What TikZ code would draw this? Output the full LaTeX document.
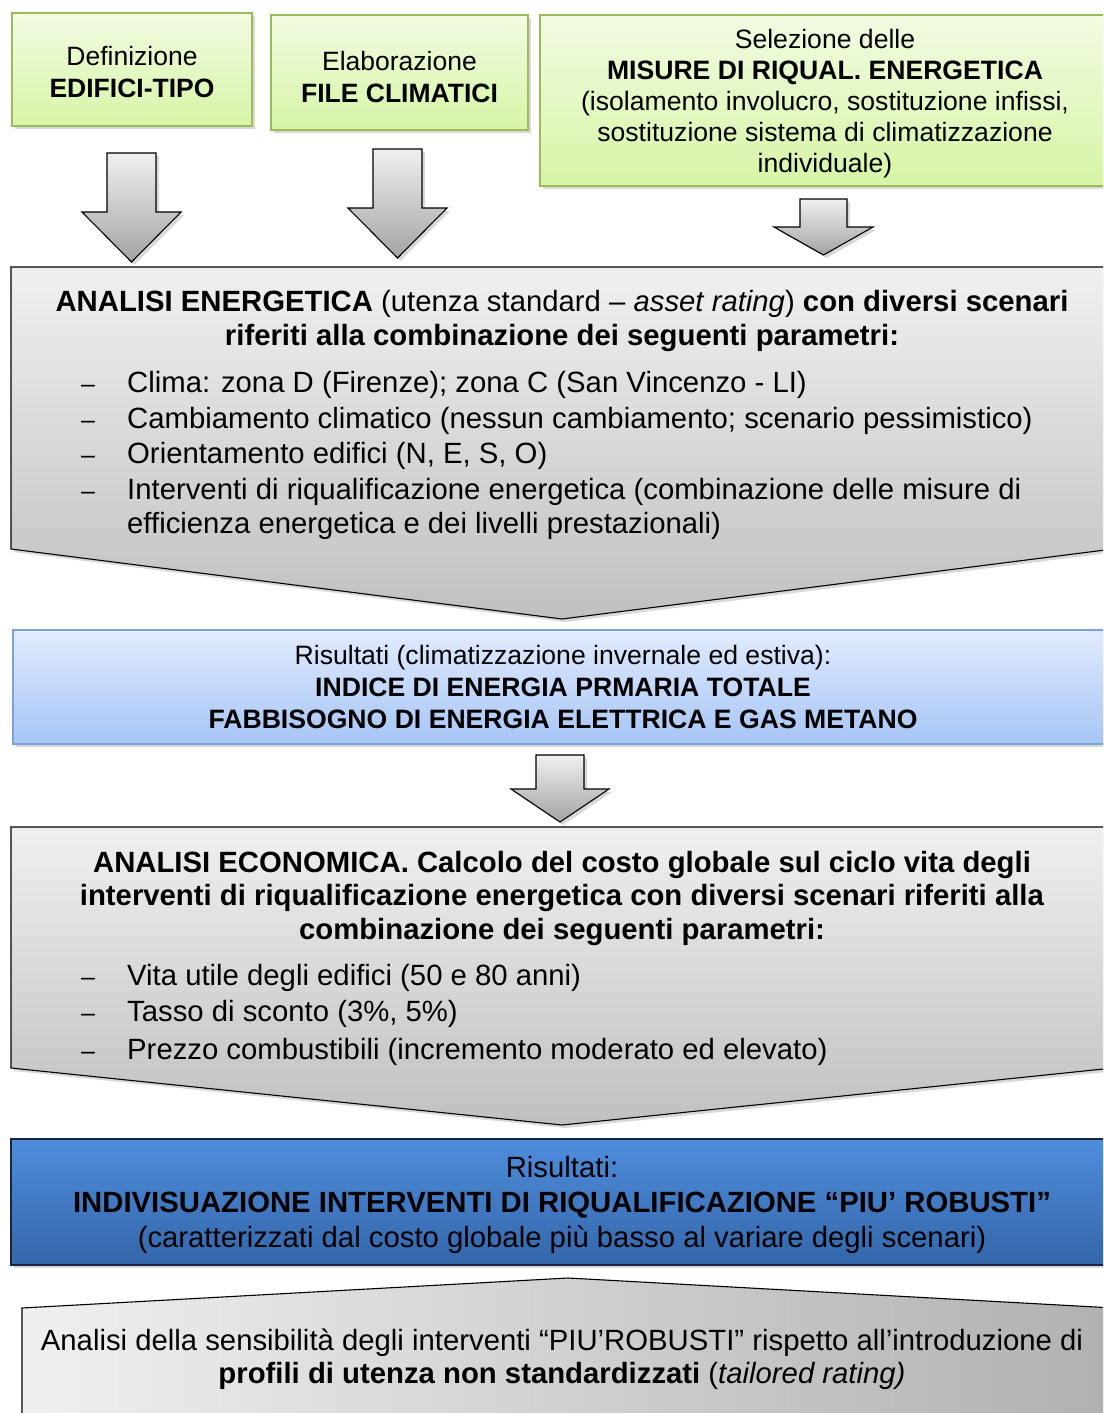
\documentclass[tikz,border=0pt]{standalone}
\usepackage{fontspec}
\setmainfont{Liberation Sans}
\usetikzlibrary{shadows}
\definecolor{grTop}{HTML}{F2FBE2}
\definecolor{grBot}{HTML}{D6F5A6}
\definecolor{grLine}{HTML}{9BBB59}
\definecolor{gyTop}{HTML}{F0F0F0}
\definecolor{gyBot}{HTML}{C0C0C0}
\definecolor{lbTop}{HTML}{E2EBFD}
\definecolor{lbBot}{HTML}{A6C5F6}
\definecolor{lbLine}{HTML}{7EA2D8}
\definecolor{dbTop}{HTML}{4F8DDC}
\definecolor{dbBot}{HTML}{3466AA}
\definecolor{dbLine}{HTML}{17263D}
\begin{document}
\begin{tikzpicture}[x=1pt,y=-1pt,
  shad/.style={drop shadow={opacity=0.3,shadow xshift=3pt,shadow yshift=-3pt}},
  greenbox/.style={shad,draw=grLine,line width=1.5pt,top color=grTop,bottom color=grBot,inner sep=0pt},
  greentxt/.style={inner sep=0pt,align=center,font=\fontsize{26.5}{32}\selectfont},
  blockarrow/.style={shad,draw=black,line width=1.1pt,top color=gyTop,bottom color=gyBot!85!black},
  bigbox/.style={shad,draw=black,line width=1.1pt,top color=gyTop,bottom color=gyBot},
  lightblue/.style={shad,draw=lbLine,line width=1.5pt,top color=lbTop,bottom color=lbBot,inner sep=0pt,align=center,font=\fontsize{26.6}{32}\selectfont},
  darkblue/.style={shad,draw=dbLine,line width=2pt,top color=dbTop,bottom color=dbBot,inner sep=0pt},
  bigtxt/.style={anchor=base,inner sep=0pt,font=\fontsize{29.3}{34}\selectfont},
  bultxt/.style={anchor=base west,inner sep=0pt,font=\fontsize{29.3}{34}\selectfont},
  dashmark/.style={anchor=base,inner sep=0pt,font=\fontsize{25}{34}\selectfont}
]
\useasboundingbox (0,0) rectangle (1103,1413);
\fill[white] (0,0) rectangle (1103,1413);
\clip (0,0) rectangle (1103,1413);

% top green boxes
\node[greenbox,minimum width=240pt,minimum height=113pt] (edifici) at (132,69.5) {};
\node[greentxt] (edificitxt) at (132,72) {Definizione\\\textbf{EDIFICI-TIPO}};
\node[greenbox,minimum width=257pt,minimum height=115pt] (climatici) at (399.5,72.5) {};
\node[greentxt] (climaticitxt) at (399.5,77) {Elaborazione\\\textbf{FILE CLIMATICI}};
\node[greenbox,minimum width=570pt,minimum height=171pt] (misure) at (825,100.5) {};
\node[inner sep=0pt,align=center,font=\fontsize{26.6}{31}\selectfont] (misuretxt) at (825,103.5)
  {Selezione delle\\\textbf{MISURE DI RIQUAL. ENERGETICA}\\(isolamento involucro, sostituzione infissi,\\sostituzione sistema di climatizzazione\\individuale)};

% block arrows below the green boxes
\draw[blockarrow] (107,153) -- (156,153) -- (156,212) -- (181,212) -- (131.5,262) -- (82,212) -- (107,212) -- cycle;
\draw[blockarrow] (373,149) -- (422,149) -- (422,208) -- (447,208) -- (397.5,258) -- (348,208) -- (373,208) -- cycle;
\draw[blockarrow] (800,199) -- (847,199) -- (847,227) -- (873,227) -- (823.5,255) -- (774,227) -- (800,227) -- cycle;

% ANALISI ENERGETICA
\draw[bigbox] (11,267) -- (1113,267) -- (1113,549) -- (562,619) -- (11,549) -- cycle;
\node[bigtxt] (ae1) at (562,311) {\textbf{ANALISI ENERGETICA} (utenza standard – \textit{asset rating}) \textbf{con diversi scenari}};
\node[bigtxt] (ae2) at (562,345) {\textbf{riferiti alla combinazione dei seguenti parametri:}};
\node[dashmark] (d1) at (88,392) {–};
\node[dashmark] (d2) at (88,428) {–};
\node[dashmark] (d3) at (88,463) {–};
\node[dashmark] (d4) at (88,499) {–};
\node[bultxt] (b1) at (127,392) {Clima: zona D (Firenze); zona C (San Vincenzo - LI)};
\node[bultxt] (b2) at (127,428) {Cambiamento climatico (nessun cambiamento; scenario pessimistico)};
\node[bultxt] (b3) at (127,463) {Orientamento edifici (N, E, S, O)};
\node[bultxt] (b4) at (127,499) {Interventi di riqualificazione energetica (combinazione delle misure di};
\node[bultxt] (b5) at (127,533) {efficienza energetica e dei livelli prestazionali)};

% Risultati 1
\node[lightblue,minimum width=1100pt,minimum height=114pt] (ris1) at (563,687)
  {Risultati (climatizzazione invernale ed estiva):\\\textbf{INDICE DI ENERGIA PRMARIA TOTALE}\\\textbf{FABBISOGNO DI ENERGIA ELETTRICA E GAS METANO}};

\draw[blockarrow] (536,755) -- (584,755) -- (584,789) -- (609,789) -- (560,822) -- (511,789) -- (536,789) -- cycle;

% ANALISI ECONOMICA
\draw[bigbox] (11,827) -- (1113,827) -- (1113,1068) -- (562,1125) -- (11,1068) -- cycle;
\node[bigtxt] (ec1) at (562,872) {\textbf{ANALISI ECONOMICA. Calcolo del costo globale sul ciclo vita degli}};
\node[bigtxt] (ec2) at (562,905) {\textbf{interventi di riqualificazione energetica con diversi scenari riferiti alla}};
\node[bigtxt] (ec3) at (562,939) {\textbf{combinazione dei seguenti parametri:}};
\node[dashmark] (e1) at (88,985) {–};
\node[dashmark] (e2) at (88,1021) {–};
\node[dashmark] (e3) at (88,1059) {–};
\node[bultxt] (c1) at (127,985) {Vita utile degli edifici (50 e 80 anni)};
\node[bultxt] (c2) at (127,1021) {Tasso di sconto (3\%, 5\%)};
\node[bultxt] (c3) at (127,1059) {Prezzo combustibili (incremento moderato ed elevato)};

% Risultati 2
\node[darkblue,minimum width=1102pt,minimum height=126pt] (ris2) at (562,1202) {};
\node[inner sep=0pt,align=center,font=\fontsize{29.3}{35}\selectfont] (ris2txt) at (562,1204.5)
  {Risultati:\\\textbf{INDIVISUAZIONE INTERVENTI DI RIQUALIFICAZIONE “PIU’ ROBUSTI”}\\(caratterizzati dal costo globale più basso al variare degli scenari)};

% bottom shape
\draw[shad,draw=black,line width=1.1pt,left color=gyTop,right color=gyBot!92!black] (22,1308) -- (568,1278) -- (1114,1308) -- (1114,1440) -- (22,1440) -- cycle;
\node[bigtxt] (sens1) at (562,1350) {Analisi della sensibilità degli interventi “PIU’ROBUSTI” rispetto all’introduzione di};
\node[bigtxt] (sens2) at (562,1383) {\textbf{profili di utenza non standardizzati} (\textit{tailored rating)}};
\end{tikzpicture}
\end{document}
